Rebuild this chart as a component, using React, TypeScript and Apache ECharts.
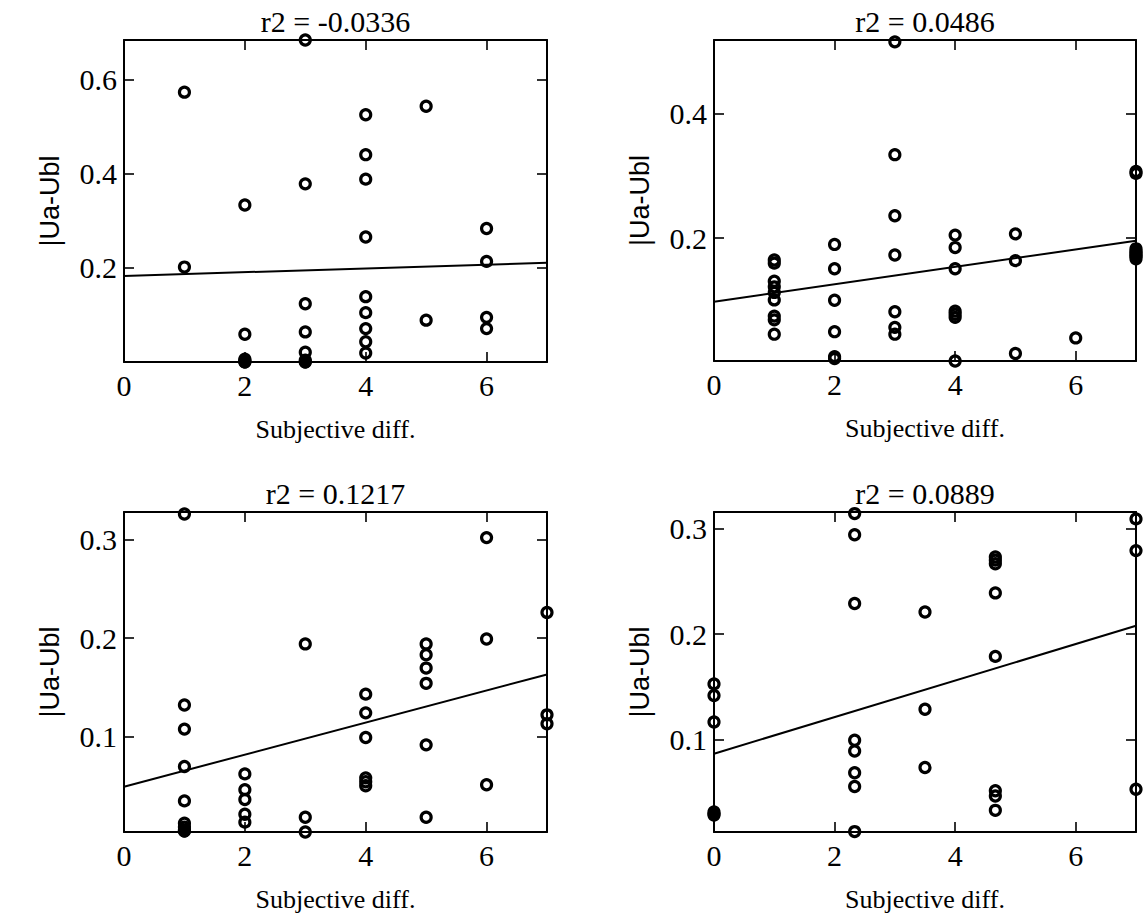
import React, { useEffect, useRef } from "react";
import * as echarts from "echarts";

const titles = ["r2 = -0.0336", "r2 = 0.0486", "r2 = 0.1217", "r2 = 0.0889"];
const xName = "Subjective diff.";
const yName = "|Ua-Ubl";
const xTicks = [0, 2, 4, 6];
const xRange = [0, 7];
const yTicks = [
  [0.2, 0.4, 0.6],
  [0.2, 0.4],
  [0.1, 0.2, 0.3],
  [0.1, 0.2, 0.3],
];
const yRanges = [
  [0, 0.685],
  [0.003, 0.518],
  [0.003, 0.328],
  [0.013, 0.3155],
];

// panel 1
const p1X = [1, 1, 2, 2, 2, 2, 2, 3, 3, 3, 3, 3, 3, 3, 4, 4, 4, 4, 4, 4, 4, 4, 4, 5, 5, 6, 6, 6, 6];
const p1Y = [0.574, 0.202, 0.334, 0.059, 0.0, 0.003, 0.006, 0.685, 0.379, 0.124, 0.064, 0.021, 0.0, 0.004, 0.526, 0.441, 0.389, 0.266, 0.139, 0.105, 0.071, 0.043, 0.019, 0.544, 0.089, 0.284, 0.214, 0.095, 0.071];
// panel 2
const p2X = [1, 1, 1, 1, 1, 1, 1, 1, 1, 2, 2, 2, 2, 2, 2, 3, 3, 3, 3, 3, 3, 3, 4, 4, 4, 4, 4, 4, 4, 5, 5, 5, 6, 7, 7, 7, 7, 7, 7, 7];
const p2Y = [0.165, 0.16, 0.131, 0.122, 0.113, 0.101, 0.075, 0.069, 0.046, 0.19, 0.151, 0.1005, 0.05, 0.01, 0.007, 0.515, 0.334, 0.236, 0.173, 0.082, 0.057, 0.046, 0.205, 0.185, 0.151, 0.083, 0.078, 0.073, 0.003, 0.207, 0.164, 0.015, 0.04, 0.307, 0.304, 0.183, 0.179, 0.175, 0.171, 0.167];
// panel 3
const p3X = [1, 1, 1, 1, 1, 1, 1, 1, 1, 2, 2, 2, 2, 2, 3, 3, 3, 4, 4, 4, 4, 4, 4, 5, 5, 5, 5, 5, 5, 6, 6, 6, 7, 7, 7];
const p3Y = [0.326, 0.132, 0.1075, 0.0695, 0.0346, 0.012, 0.008, 0.005, 0.004, 0.062, 0.046, 0.036, 0.021, 0.013, 0.194, 0.018, 0.003, 0.143, 0.124, 0.099, 0.058, 0.054, 0.05, 0.194, 0.183, 0.1695, 0.154, 0.0915, 0.018, 0.302, 0.199, 0.051, 0.226, 0.122, 0.113];
// panel 4
const p4X = [0, 0, 0, 0, 0, 2.333, 2.333, 2.333, 2.333, 2.333, 2.333, 2.333, 2.333, 3.5, 3.5, 3.5, 4.667, 4.667, 4.667, 4.667, 4.667, 4.667, 4.667, 4.667, 7, 7, 7];
const p4Y = [0.153, 0.142, 0.117, 0.032, 0.029, 0.314, 0.294, 0.229, 0.0997, 0.0896, 0.069, 0.056, 0.0134, 0.221, 0.129, 0.074, 0.273, 0.27, 0.2666, 0.239, 0.179, 0.052, 0.047, 0.0335, 0.309, 0.279, 0.0534];

// places where many coincident points merge into a solid dot
const dense1X = [2, 3];
const dense1Y = [0.0, 0.0];
const dense2X = [7, 7];
const dense2Y = [0.177, 0.171];
const dense3X = [1];
const dense3Y = [0.004];
const dense4X = [0];
const dense4Y = [0.03];

const pointsX = [p1X, p2X, p3X, p4X];
const pointsY = [p1Y, p2Y, p3Y, p4Y];
const denseX = [dense1X, dense2X, dense3X, dense4X];
const denseY = [dense1Y, dense2Y, dense3Y, dense4Y];
// regression line end values at x = 0 and x = 7
const fitStart = [0.183, 0.098, 0.049, 0.087];
const fitEnd = [0.211, 0.196, 0.163, 0.208];

const grids = [
  { left: 124, top: 40, width: 423, height: 322 },
  { left: 714, top: 40, width: 422, height: 321 },
  { left: 124, top: 512, width: 423, height: 320 },
  { left: 714, top: 512, width: 422, height: 320 },
];

const SERIF = "Liberation Serif";
const SANS = "Liberation Sans";

function buildOption() {
  const xAxis: any[] = [];
  const yAxis: any[] = [];
  const series: any[] = [];
  const title: any[] = [];
  grids.forEach((g, i) => {
    const lineStyle = { color: "#000", width: 2 };
    const tick = (vals: number[]) => ({
      show: true,
      inside: true,
      length: 10,
      customValues: vals,
      lineStyle: { color: "#000", width: 1.6 },
    });
    xAxis.push({
      type: "value",
      gridIndex: i,
      position: "bottom",
      min: xRange[0],
      max: xRange[1],
      axisLine: { show: true, onZero: false, lineStyle },
      axisTick: tick(xTicks),
      splitLine: { show: false },
      axisLabel: {
        show: true,
        customValues: xTicks,
        margin: 8,
        color: "#000",
        fontFamily: SERIF,
        fontSize: 30,
        formatter: (v: number) => String(v),
      },
      name: xName,
      nameLocation: "middle",
      nameGap: 54,
      nameTextStyle: { color: "#000", fontFamily: SERIF, fontSize: 26 },
    });
    xAxis.push({
      type: "value",
      gridIndex: i,
      position: "top",
      min: xRange[0],
      max: xRange[1],
      axisLine: { show: true, onZero: false, lineStyle },
      axisTick: tick(xTicks),
      splitLine: { show: false },
      axisLabel: { show: false },
    });
    yAxis.push({
      type: "value",
      gridIndex: i,
      position: "left",
      min: yRanges[i][0],
      max: yRanges[i][1],
      axisLine: { show: true, onZero: false, lineStyle },
      axisTick: tick(yTicks[i]),
      splitLine: { show: false },
      axisLabel: {
        show: true,
        customValues: yTicks[i],
        margin: 7,
        color: "#000",
        fontFamily: SERIF,
        fontSize: 30,
        formatter: (v: number) => v.toFixed(1),
      },
      name: yName,
      nameLocation: "middle",
      nameGap: 61,
      nameTextStyle: { color: "#000", fontFamily: SANS, fontSize: 27 },
    });
    yAxis.push({
      type: "value",
      gridIndex: i,
      position: "right",
      min: yRanges[i][0],
      max: yRanges[i][1],
      axisLine: { show: true, onZero: false, lineStyle },
      axisTick: tick(yTicks[i]),
      splitLine: { show: false },
      axisLabel: { show: false },
    });
    series.push({
      type: "scatter",
      xAxisIndex: 2 * i,
      yAxisIndex: 2 * i,
      clip: false,
      symbol: "circle",
      symbolSize: 10,
      itemStyle: { color: "rgba(0,0,0,0)", borderColor: "#000", borderWidth: 3.2, opacity: 1 },
      data: pointsX[i].map((x, k) => [x, pointsY[i][k]]),
      z: 3,
    });
    series.push({
      type: "scatter",
      xAxisIndex: 2 * i,
      yAxisIndex: 2 * i,
      clip: false,
      symbol: "circle",
      symbolSize: 12,
      itemStyle: { color: "#000", borderColor: "#000", borderWidth: 1, opacity: 1 },
      data: denseX[i].map((x, k) => [x, denseY[i][k]]),
      z: 4,
    });
    series.push({
      type: "line",
      xAxisIndex: 2 * i,
      yAxisIndex: 2 * i,
      showSymbol: false,
      symbol: "none",
      lineStyle: { color: "#000", width: 2 },
      data: [
        [xRange[0], fitStart[i]],
        [xRange[1], fitEnd[i]],
      ],
      z: 2,
    });
    title.push({
      text: titles[i],
      left: g.left + g.width / 2,
      top: g.top - 34,
      textAlign: "center",
      textStyle: { color: "#000", fontFamily: SERIF, fontSize: 30, fontWeight: "normal" },
      padding: 0,
    });
  });
  return {
    animation: false,
    backgroundColor: "#fff",
    title,
    grid: grids.map((g) => ({ ...g, containLabel: false })),
    xAxis,
    yAxis,
    series,
  };
}

export default function App() {
  const ref = useRef<HTMLDivElement>(null);
  useEffect(() => {
    if (!ref.current) return;
    const chart = echarts.init(ref.current, undefined, { renderer: "svg" });
    chart.setOption(buildOption());
    return () => chart.dispose();
  }, []);
  return (
    <div
      ref={ref}
      style={{ position: "fixed", left: 0, top: 0, width: 1146, height: 924, background: "#fff" }}
    />
  );
}
